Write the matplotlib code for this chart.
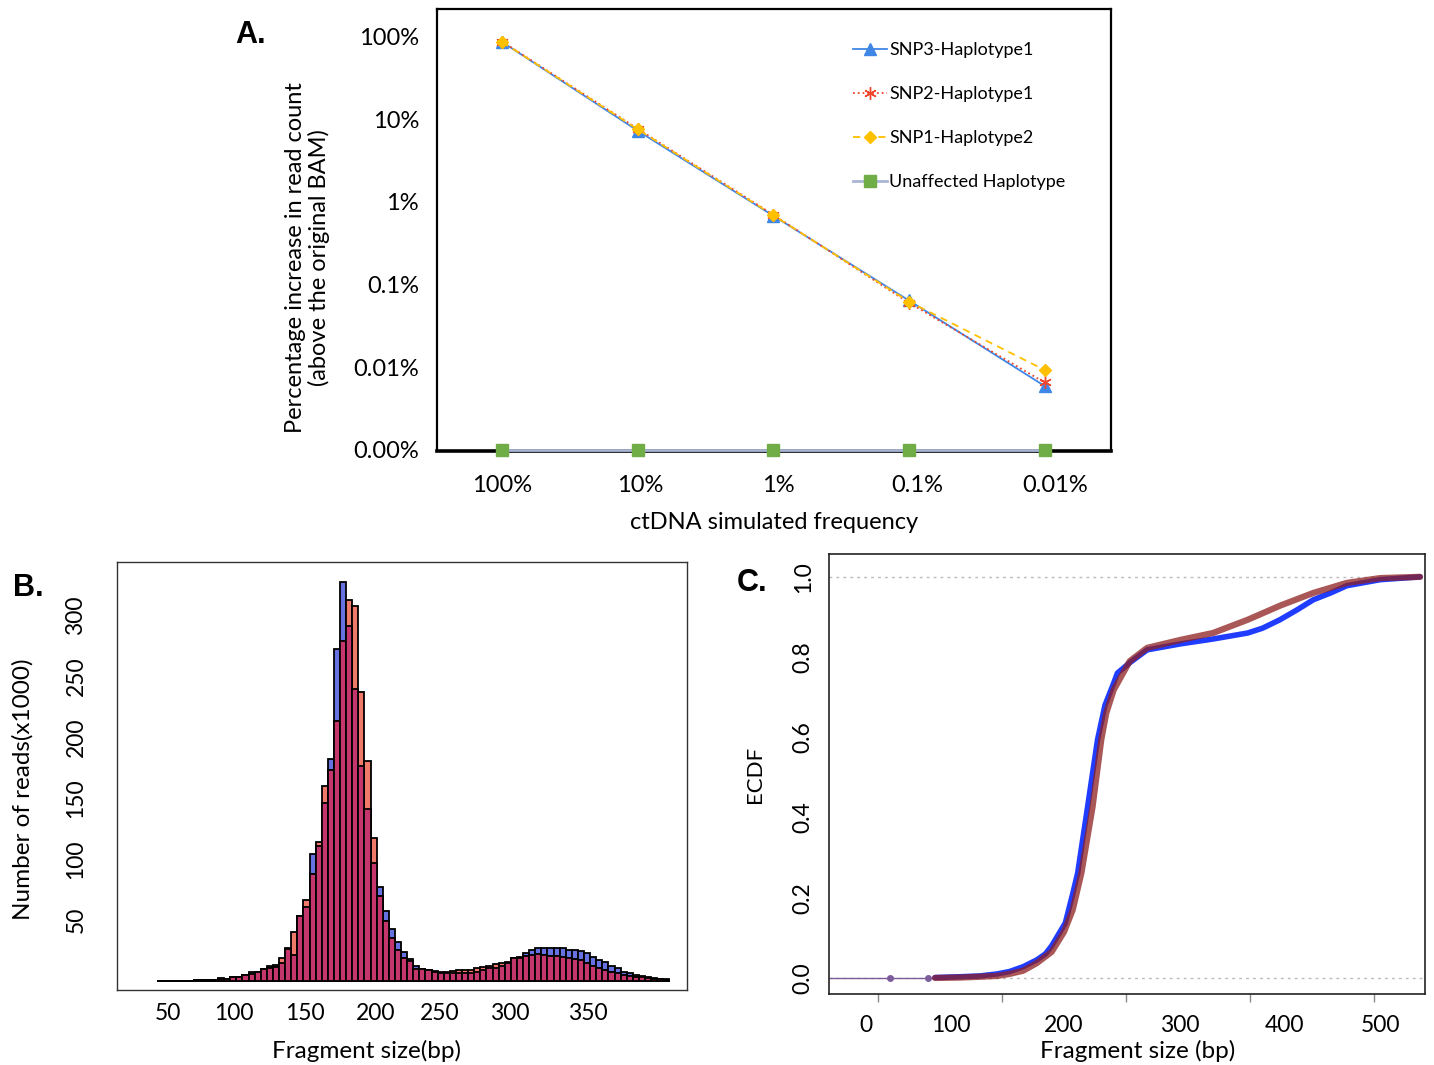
import numpy as np
import matplotlib
matplotlib.use("Agg")
import matplotlib.pyplot as plt

plt.rcParams['font.family'] = ['Lato', 'DejaVu Sans']

# ---- panel A data ----
freq_labels = ["100%", "10%", "1%", "0.1%", "0.01%"]
snp3_hap1 = [87, 7.3, 0.68, 0.064, 0.0059]
snp2_hap1 = [88, 7.7, 0.70, 0.060, 0.0065]
snp1_hap2 = [87, 7.6, 0.69, 0.062, 0.0092]
unaffected = [0, 0, 0, 0, 0]
a_yticks = [100, 10, 1, 0.1, 0.01, 0.001]
a_ylabels = ["100%", "10%", "1%", "0.1%", "0.01%", "0.00%"]

# ---- panel B data (5 bp bins, left edges 15..430) ----
bin_left = np.arange(15, 435, 5)
hist_blue = [0.1, 0.1, 0.1, 0.2, 0.2, 0.3, 0.4, 0.5, 0.8, 0.9,
             2.2, 1.6, 3.6, 3.6, 4.9, 7.7, 7.1, 9.8, 12, 13.5,
             15, 27, 21, 53, 61, 104, 111, 146, 182, 272,
             327, 291, 239, 176, 141, 97, 77, 57, 43, 32,
             24, 18, 12, 10, 9, 7, 6.3, 6.3, 6.3, 6.8,
             6.8, 6.8, 7.7, 9, 10.4, 10.9, 12.3, 14.5, 18.6, 20,
             23.2, 25.4, 26.8, 26.8, 27.3, 27.3, 26.8, 25.4, 25.4, 24.6,
             23.2, 20, 17.2, 15.8, 12.3, 10.4, 7.7, 6.3, 4.9, 4.1,
             3.0, 2.5, 1.9, 1.6]
hist_red = [0.1, 0.1, 0.1, 0.2, 0.2, 0.3, 0.4, 0.5, 0.8, 0.9,
            2.0, 1.6, 3.4, 3.6, 4.7, 5.7, 7.1, 9.8, 11, 11.7,
            18.6, 26, 40, 53, 66, 88, 114, 160, 173, 213,
            279, 312, 307, 237, 180, 117, 70, 49, 35, 25,
            19, 16, 10, 10, 9, 8, 7.7, 7.7, 8.2, 9,
            9, 9, 10.4, 11.7, 12.3, 13.7, 14.5, 15.8, 18.6, 18.6,
            20.5, 21.3, 21.9, 21.3, 20.8, 20.5, 19.4, 19.1, 17.8, 17.2,
            15, 12.3, 10.4, 9, 7.7, 6.3, 4.9, 4.1, 3.6, 3.0,
            2.2, 1.6, 1.4, 1.1]
b_xlabels = ["50", "100", "150", "200", "250", "300", "350"]
b_xlabel_pos = [24, 78, 136, 194, 247, 304, 368]
b_yticks = [50, 100, 150, 200, 250, 300]

# ---- panel C data (ECDF) ----
blue_bp = [10, 40, 46, 66, 82, 96, 106, 117, 128, 135, 140, 151, 157, 161,
           169, 177, 183, 190, 193, 203, 217, 244, 270, 298, 310, 324, 338,
           351, 365, 378, 405, 437]
blue_ecdf = [0.0, 0.0, 0.001, 0.003, 0.005, 0.01, 0.016, 0.028, 0.045, 0.06,
             0.08, 0.137, 0.21, 0.262, 0.427, 0.594, 0.68, 0.735, 0.76, 0.786,
             0.818, 0.833, 0.845, 0.860, 0.872, 0.893, 0.918, 0.943, 0.960,
             0.978, 0.993, 1.0]
red_bp = [10, 40, 46, 66, 82, 96, 106, 117, 128, 140, 150, 157, 164, 173,
          180, 184, 190, 203, 217, 244, 270, 298, 324, 351, 378, 405, 437]
red_ecdf = [0.0, 0.0, 0.0, 0.001, 0.003, 0.005, 0.01, 0.018, 0.037, 0.065,
            0.115, 0.17, 0.262, 0.427, 0.594, 0.66, 0.718, 0.79, 0.823, 0.843,
            0.860, 0.893, 0.928, 0.960, 0.985, 0.997, 1.0]
c_xlabels = ["0", "100", "200", "300", "400", "500"]
c_xlabel_pos = [-10, 59, 150, 243, 328, 405]
c_yticks = [0.0, 0.2, 0.4, 0.6, 0.8, 1.0]

W, H = 1434, 1065
fig = plt.figure(figsize=(W / 100, H / 100), dpi=100)
fig.set_facecolor("white")

def box(l, t, r, b):
    return [l / W, 1 - b / H, (r - l) / W, (b - t) / H]

# ================= A =================
axA = fig.add_axes(box(437, 9, 1111, 451))
x = np.arange(len(freq_labels))
y_floor = 0.001
axA.plot(x, np.where(np.array(unaffected) > 0, unaffected, y_floor),
         color="#a9b6d3", lw=2, marker="s", ms=8, mfc="#70ad47", mec="#70ad47",
         label="Unaffected Haplotype", clip_on=False, zorder=3)
axA.plot(x, snp3_hap1, color="#3f87e6", lw=1.3, marker="^", ms=8,
         label="SNP3-Haplotype1", zorder=4)
axA.plot(x, snp2_hap1, color="#f0452b", lw=1.3, ls=":", marker=(6, 2, 0), ms=9,
         mew=1.0, label="SNP2-Haplotype1", zorder=5)
axA.plot(x, snp1_hap2, color="#ffc000", lw=1.3, ls=(0, (4, 3)), marker="D", ms=6,
         label="SNP1-Haplotype2", zorder=6)
axA.set_yscale("log")
axA.set_ylim(9.6e-4, 218)
axA.set_xlim(-0.48, 4.49)
axA.set_yticks(a_yticks, labels=a_ylabels)
axA.yaxis.set_minor_locator(matplotlib.ticker.NullLocator())
axA.set_xticks(x * 1.02, labels=freq_labels)
axA.tick_params(axis="both", length=0, labelsize=17)
axA.tick_params(axis="y", pad=13)
axA.tick_params(axis="x", pad=17)
for s in ["left", "top", "right"]:
    axA.spines[s].set_linewidth(1.6)
axA.spines["bottom"].set_linewidth(2.6)
axA.set_xlabel("ctDNA simulated frequency", fontsize=17, labelpad=12)
axA.set_ylabel("Percentage increase in read count\n(above the original BAM)",
               fontsize=17, linespacing=1.1)
axA.yaxis.set_label_coords(-0.159, 0.437)
h, l = axA.get_legend_handles_labels()
order = [1, 2, 3, 0]
axA.legend([h[i] for i in order], [l[i] for i in order], loc="upper left",
           bbox_to_anchor=(0.604, 0.945), frameon=False, fontsize=13,
           handlelength=1.9, handletextpad=0.1, labelspacing=1.55, borderpad=0)
fig.text(251 / W, 1 - 35 / H, "A.", fontsize=22, fontweight="bold",
         family="Liberation Sans", ha="center", va="center")

# ================= B =================
axB = fig.add_axes(box(117, 562, 687, 990))
hb = np.array(hist_blue)
hr = np.array(hist_red)
axB.bar(bin_left, hb, width=5, align="edge", color="#6672e2", edgecolor="black", lw=1.3)
axB.bar(bin_left, hr, width=5, align="edge", color="#ef7a6a", edgecolor="black", lw=1.3)
axB.bar(bin_left, np.minimum(hb, hr), width=5, align="edge", color="#c4366c",
        edgecolor="black", lw=1.3)
axB.set_xlim(-17.8, 449.4)
axB.set_ylim(-7.4, 343.4)
axB.set_xticks(b_xlabel_pos, labels=b_xlabels)
axB.set_yticks(b_yticks, labels=[str(v) for v in b_yticks])
for lab in axB.get_yticklabels():
    lab.set_rotation(90)
    lab.set_va("center")
axB.tick_params(axis="both", length=0, labelsize=16.5)
axB.tick_params(axis="x", pad=9)
axB.tick_params(axis="y", pad=22)
for s in axB.spines.values():
    s.set_linewidth(1.0)
    s.set_color("#333333")
axB.set_xlabel("Fragment size(bp)", fontsize=17.5)
axB.xaxis.set_label_coords(0.437, -0.117)
axB.set_ylabel("Number of reads(x1000)", fontsize=17.5)
axB.yaxis.set_label_coords(-0.147, 0.470)
fig.text(28 / W, 1 - 588 / H, "B.", fontsize=22, fontweight="bold",
         family="Liberation Sans", ha="center", va="center")

# ================= C =================
axC = fig.add_axes(box(829, 554, 1425, 994))
xl = (-39.5, 441)
axC.axhline(0, color="#bbbbbb", lw=1, ls=(0, (2, 3)), zorder=1)
axC.axhline(1, color="#bbbbbb", lw=1, ls=(0, (2, 3)), zorder=1)
axC.hlines(0, xl[0], blue_bp[0], color="#7d5c9c", lw=1, zorder=2)
axC.hlines(0, blue_bp[0], blue_bp[2], color="#7d5c9c", lw=1, zorder=2)
axC.plot(blue_bp[:2], blue_ecdf[:2], ls="none", marker="o", ms=4,
         color="#7d5c9c", zorder=3)
axC.plot(blue_bp[2:], blue_ecdf[2:], color="#1f3cff", lw=4, zorder=3,
         solid_capstyle="round")
axC.plot(red_bp[2:], red_ecdf[2:], color="#8e1f1f", lw=4.5, alpha=0.75, zorder=4,
         solid_capstyle="round")
axC.set_xlim(*xl)
axC.set_ylim(-0.04, 1.057)
axC.set_xticks([0, 100, 200, 300, 400], labels=[""] * 5)
axC.set_xticks(c_xlabel_pos, labels=c_xlabels, minor=True)
axC.tick_params(axis="x", which="major", length=6, width=1, color="#888888")
axC.tick_params(axis="x", which="minor", length=0, pad=15, labelsize=16.5)
axC.set_yticks(c_yticks, labels=[f"{v:.1f}" for v in c_yticks])
for lab in axC.get_yticklabels():
    lab.set_rotation(90)
    lab.set_va("center")
axC.tick_params(axis="y", length=0, pad=11, labelsize=16.5)
for s in axC.spines.values():
    s.set_linewidth(1.2)
    s.set_color("#222222")
axC.set_xlabel("Fragment size (bp)", fontsize=17.5)
axC.xaxis.set_label_coords(0.518, -0.105)
axC.set_ylabel("ECDF", fontsize=16, labelpad=20)
fig.text(752 / W, 1 - 583 / H, "C.", fontsize=22, fontweight="bold",
         family="Liberation Sans", ha="center", va="center")

fig.savefig("out.png", dpi=100)
